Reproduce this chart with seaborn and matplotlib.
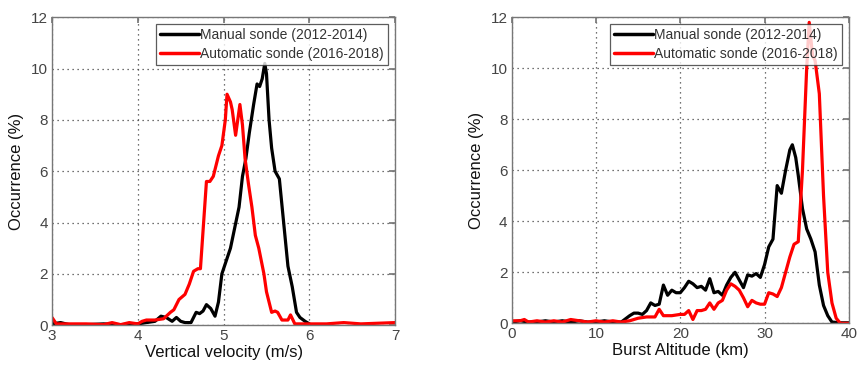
import matplotlib
matplotlib.use("Agg")
import matplotlib.pyplot as plt
import seaborn as sns
import pandas as pd

# ---- Left panel: vertical velocity (m/s) ----
vv_manual_x = [3.0, 3.1, 3.2, 3.4, 3.6, 3.8, 4.0, 4.1, 4.2, 4.27, 4.33, 4.4, 4.45, 4.5, 4.55, 4.62,
               4.68, 4.72, 4.76, 4.8, 4.85, 4.9, 4.94, 4.98, 5.03, 5.08, 5.13, 5.18, 5.22, 5.26,
               5.3, 5.35, 5.39, 5.42, 5.45, 5.48, 5.5, 5.53, 5.56, 5.6, 5.65, 5.7, 5.75, 5.8,
               5.85, 5.89, 5.95, 6.0]
vv_manual_y = [0.05, 0.1, 0.02, 0.02, 0.05, 0.02, 0.05, 0.1, 0.15, 0.35, 0.3, 0.15, 0.3, 0.15, 0.1, 0.1,
               0.5, 0.45, 0.55, 0.8, 0.65, 0.35, 0.9, 2.0, 2.5, 3.0, 3.8, 4.6, 5.8, 6.5,
               7.5, 8.6, 9.4, 9.3, 9.6, 10.2, 9.8, 8.0, 6.9, 6.0, 5.7, 4.0, 2.3, 1.5,
               0.5, 0.3, 0.15, 0.05]
vv_auto_x = [3.0, 3.05, 3.2, 3.4, 3.6, 3.7, 3.8, 3.9, 4.0, 4.05, 4.1, 4.2, 4.3, 4.38, 4.42, 4.48,
             4.55, 4.6, 4.65, 4.7, 4.73, 4.8, 4.84, 4.88, 4.94, 4.98, 5.02, 5.04, 5.08, 5.1,
             5.14, 5.19, 5.22, 5.25, 5.29, 5.33, 5.37, 5.41, 5.47, 5.5, 5.56, 5.6, 5.63, 5.68,
             5.75, 5.78, 5.83, 6.0, 6.2, 6.4, 6.6, 7.0]
vv_auto_y = [0.3, 0.05, 0.05, 0.05, 0.02, 0.1, 0.02, 0.1, 0.05, 0.15, 0.2, 0.2, 0.25, 0.5, 0.6, 1.0,
             1.2, 1.6, 2.1, 2.2, 2.2, 5.6, 5.6, 5.8, 6.6, 7.0, 8.0, 9.0, 8.7, 8.4,
             7.4, 8.6, 7.8, 6.5, 5.5, 4.6, 3.5, 3.0, 2.0, 1.3, 0.5, 0.55, 0.5, 0.2,
             0.2, 0.4, 0.05, 0.05, 0.05, 0.1, 0.05, 0.1]

# ---- Right panel: burst altitude (km) ----
ba_manual_x = [0, 1, 2, 3, 4, 5, 6, 7, 8, 9, 10, 11, 12, 13, 14, 14.5, 15, 15.5, 16, 16.5, 17,
               17.5, 18, 18.5, 19, 19.5, 20, 20.5, 21, 21.5, 22, 22.5, 23, 23.5, 24, 24.5, 25,
               25.5, 26, 26.5, 27, 27.5, 28, 28.5, 29, 29.5, 30, 30.5, 31, 31.5, 32, 32.5,
               33, 33.3, 33.7, 34, 34.5, 35, 35.5, 36, 36.5, 37, 37.5, 38, 39, 40]
ba_manual_y = [0.05, 0.1, 0.05, 0.05, 0.1, 0.05, 0.1, 0.05, 0.1, 0.05, 0.05, 0.1, 0.05, 0.05, 0.3, 0.4, 0.4, 0.35, 0.5, 0.8, 0.7,
               0.75, 1.5, 1.1, 1.3, 1.2, 1.2, 1.4, 1.65, 1.55, 1.4, 1.45, 1.3, 1.75, 1.2, 1.25, 1.1,
               1.5, 1.8, 2.0, 1.7, 1.4, 1.9, 1.85, 1.95, 1.8, 2.3, 3.0, 3.3, 5.4, 5.1, 6.0,
               6.8, 7.0, 6.5, 5.8, 4.5, 3.7, 3.3, 2.8, 1.5, 0.7, 0.3, 0.05, 0.02, 0.02]
ba_auto_x = [0, 1, 1.5, 2, 3, 4, 5, 6, 7, 8, 9, 10, 11, 12, 13, 14, 15, 16, 17, 17.5, 18, 19,
             20, 20.5, 21, 21.5, 22, 22.5, 23, 23.5, 24, 24.5, 25, 25.5, 26, 26.5, 27, 27.5,
             28, 28.5, 29, 29.5, 30, 30.5, 31, 31.5, 32, 32.5, 33, 33.5, 34, 34.5, 35, 35.3,
             35.7, 36, 36.5, 37, 37.5, 38, 38.5, 39, 40]
ba_auto_y = [0.1, 0.1, 0.15, 0.05, 0.1, 0.05, 0.1, 0.05, 0.15, 0.1, 0.05, 0.1, 0.05, 0.1, 0.05, 0.1, 0.2, 0.25, 0.25, 0.55, 0.3, 0.3,
             0.35, 0.35, 0.5, 0.15, 0.5, 0.5, 0.55, 0.8, 0.55, 0.8, 0.9, 1.3, 1.55, 1.45, 1.3, 1.0,
             0.65, 0.9, 0.8, 0.75, 0.75, 1.2, 1.15, 1.05, 1.4, 2.0, 2.6, 3.1, 3.2, 6.0, 10.0, 11.8,
             10.5, 10.3, 9.0, 5.0, 2.0, 0.8, 0.2, 0.0, 0.0]

labels = ["Manual sonde (2012-2014)", "Automatic sonde (2016-2018)"]
y_ticks = [0, 2, 4, 6, 8, 10, 12]
vv_ticks = [3, 4, 5, 6, 7]
ba_ticks = [0, 10, 20, 30, 40]

sns.set_theme(style="white")
plt.rcParams["font.family"] = ["Liberation Sans", "DejaVu Sans"]

fig = plt.figure(figsize=(8.6, 3.67), dpi=100)
ax1 = fig.add_axes([0.0605, 0.114, 0.399, 0.839])
ax2 = fig.add_axes([0.595, 0.119, 0.392, 0.834])

def make_df(x1, y1, x2, y2):
    d1 = pd.DataFrame({"x": x1, "y": y1, "s": labels[0]})
    d2 = pd.DataFrame({"x": x2, "y": y2, "s": labels[1]})
    return pd.concat([d1, d2], ignore_index=True)

panels = [
    (ax1, make_df(vv_manual_x, vv_manual_y, vv_auto_x, vv_auto_y), (3, 7), vv_ticks, "Vertical velocity (m/s)"),
    (ax2, make_df(ba_manual_x, ba_manual_y, ba_auto_x, ba_auto_y), (0, 40), ba_ticks, "Burst Altitude (km)"),
]

for ax, df, xlim, xt, xl in panels:
    sns.lineplot(data=df, x="x", y="y", hue="s", palette=["black", "#ff0000"],
                 sort=False, estimator=None, linewidth=2.3, ax=ax)
    ax.set_xlim(*xlim)
    ax.set_ylim(0, 12)
    ax.set_xticks(xt)
    ax.set_yticks(y_ticks)
    ax.grid(True, linestyle=(0, (1, 3)), color="#444444", linewidth=0.9)
    ax.tick_params(direction="in", length=4, colors="#777777", labelcolor="#444444",
                   labelsize=11, top=True, right=True, pad=3)
    for sp in ax.spines.values():
        sp.set_color("#777777")
        sp.set_linewidth(1.0)
    ax.set_xlabel(xl, fontsize=12, color="#111111", labelpad=1)
    ax.set_ylabel("Occurrence (%)", fontsize=12, color="#111111", labelpad=5)
    leg = ax.legend(loc="upper right", fontsize=10, frameon=True, fancybox=False,
                    borderpad=0.3, handlelength=2.8, handletextpad=0.1, labelspacing=0.3,
                    borderaxespad=0.5)
    leg.get_frame().set_edgecolor("#333333")
    leg.get_frame().set_linewidth(0.9)
    for t in leg.get_texts():
        t.set_color("#333333")
    for h in leg.get_lines():
        h.set_linewidth(2.5)

fig.savefig("out.png", dpi=100)
